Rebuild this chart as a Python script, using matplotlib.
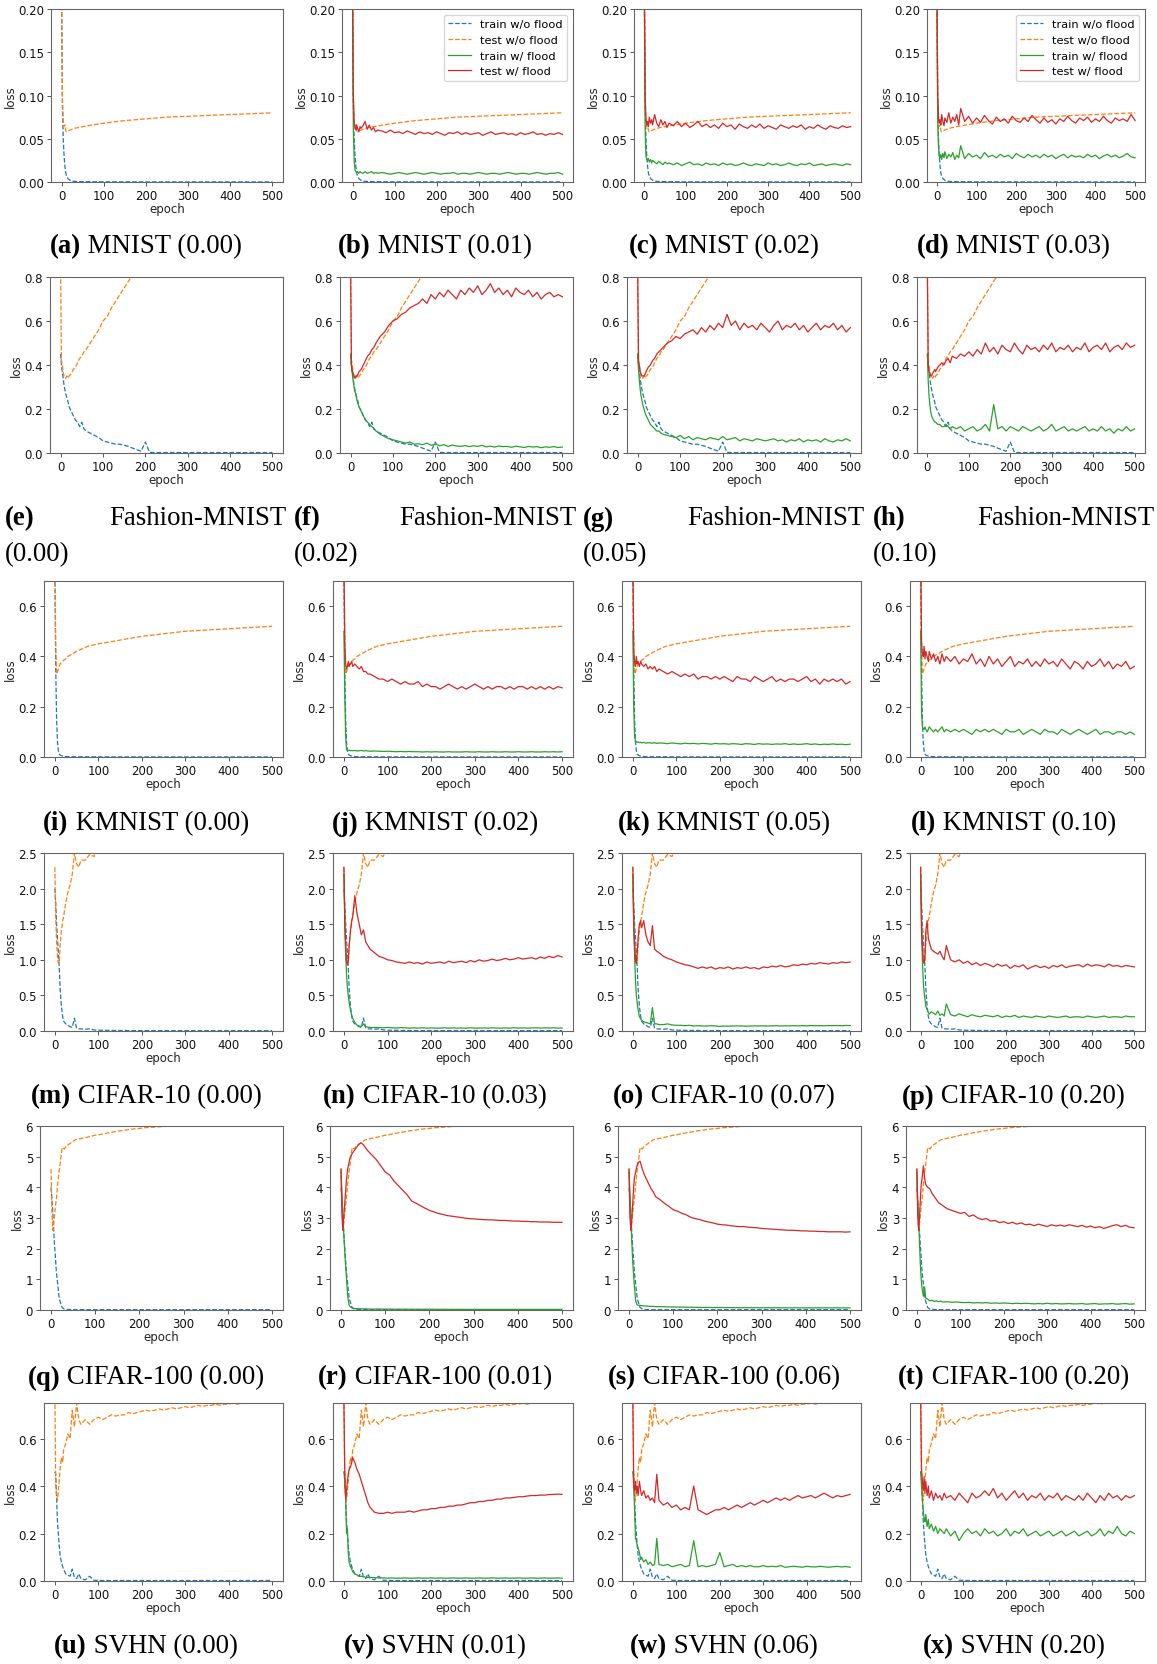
import matplotlib
matplotlib.use("Agg")
import matplotlib.pyplot as plt

W, H = 1157, 1665

EP = [0, 2, 4, 6, 8, 10, 12, 15, 18, 20, 25, 30, 35, 40, 45, 50, 55, 60,
      70, 80, 90, 100, 110, 120, 130, 140, 150, 160,
      170, 180, 190, 200, 210, 220, 230, 240, 250, 260,
      270, 280, 290, 300, 310, 320, 330, 340, 350, 360,
      370, 380, 390, 400, 410, 420, 430, 440, 450, 460,
      470, 480, 490, 500]
# coarser grid for the smooth baseline curves
EP_S = [0, 2, 4, 6, 8, 10, 12, 15, 20, 25, 30, 40, 50, 75, 100, 150, 200, 250, 300, 350, 400, 450, 500]

# ---------------- MNIST ----------------
mnist_train_wo = [0.22, 0.09, 0.05, 0.03, 0.018, 0.01, 0.007, 0.004, 0.002, 0.001, 0.0008, 0.0005, 0.0004,
                  0.0003, 0.0002, 0.0002, 0.0001, 0.0001, 0.0001, 0.0001, 0.0001, 0.0001, 0.0001]
mnist_test_wo = [0.24, 0.10, 0.066, 0.064, 0.066, 0.059, 0.058, 0.059, 0.060, 0.061, 0.062, 0.063, 0.064,
                 0.066, 0.068, 0.071, 0.073, 0.075, 0.076, 0.077, 0.078, 0.079, 0.080]

mnist_b_train = ([0.22, 0.06, 0.025, 0.014, 0.012, 0.011, 0.012, 0.010, 0.012, 0.011, 0.010, 0.012, 0.010, 0.011, 0.012, 0.010, 0.011, 0.010]
                 + [0.011, 0.010, 0.009, 0.010, 0.011, 0.010, 0.009, 0.010, 0.011, 0.010]
                 + [0.009, 0.010, 0.011, 0.010, 0.009, 0.010, 0.010, 0.011, 0.009, 0.010]
                 + [0.010, 0.009, 0.010, 0.011, 0.010, 0.009, 0.010, 0.010, 0.009, 0.010]
                 + [0.011, 0.010, 0.009, 0.010, 0.010, 0.009, 0.010, 0.011, 0.010, 0.009]
                 + [0.010, 0.010, 0.011, 0.009])
mnist_b_test = ([0.24, 0.10, 0.068, 0.064, 0.060, 0.066, 0.062, 0.058, 0.064, 0.062, 0.065, 0.070, 0.061, 0.066, 0.060, 0.063, 0.058, 0.060]
                + [0.059, 0.057, 0.060, 0.057, 0.058, 0.056, 0.059, 0.057, 0.055, 0.058]
                + [0.056, 0.057, 0.055, 0.058, 0.056, 0.054, 0.057, 0.056, 0.058, 0.055]
                + [0.057, 0.055, 0.056, 0.057, 0.054, 0.056, 0.058, 0.055, 0.056, 0.057]
                + [0.055, 0.056, 0.054, 0.057, 0.055, 0.056, 0.058, 0.055, 0.056, 0.054]
                + [0.056, 0.055, 0.057, 0.055])

mnist_c_train = ([0.22, 0.06, 0.03, 0.026, 0.025, 0.027, 0.023, 0.026, 0.022, 0.025, 0.023, 0.021, 0.024, 0.022, 0.020, 0.023, 0.021, 0.022]
                 + [0.020, 0.022, 0.019, 0.021, 0.023, 0.020, 0.021, 0.019, 0.022, 0.020]
                 + [0.021, 0.019, 0.022, 0.020, 0.021, 0.019, 0.020, 0.022, 0.020, 0.019]
                 + [0.021, 0.020, 0.019, 0.022, 0.020, 0.021, 0.019, 0.020, 0.022, 0.020]
                 + [0.019, 0.021, 0.020, 0.022, 0.019, 0.020, 0.021, 0.019, 0.020, 0.021]
                 + [0.020, 0.019, 0.021, 0.020])
mnist_c_test = ([0.24, 0.10, 0.072, 0.066, 0.070, 0.064, 0.075, 0.068, 0.072, 0.066, 0.078, 0.068, 0.064, 0.072, 0.066, 0.070, 0.063, 0.068]
                + [0.065, 0.070, 0.064, 0.068, 0.063, 0.066, 0.070, 0.064, 0.067, 0.063]
                + [0.066, 0.062, 0.068, 0.064, 0.066, 0.061, 0.067, 0.064, 0.062, 0.066]
                + [0.063, 0.067, 0.062, 0.065, 0.063, 0.061, 0.066, 0.064, 0.062, 0.065]
                + [0.063, 0.066, 0.061, 0.064, 0.062, 0.066, 0.063, 0.061, 0.065, 0.063]
                + [0.062, 0.065, 0.063, 0.064])

mnist_d_train = ([0.22, 0.07, 0.04, 0.030, 0.028, 0.032, 0.026, 0.033, 0.028, 0.035, 0.027, 0.032, 0.029, 0.034, 0.026, 0.031, 0.028, 0.042]
                 + [0.027, 0.033, 0.029, 0.031, 0.027, 0.034, 0.029, 0.031, 0.028, 0.032]
                 + [0.029, 0.031, 0.027, 0.033, 0.030, 0.028, 0.032, 0.029, 0.031, 0.028]
                 + [0.032, 0.029, 0.031, 0.027, 0.030, 0.032, 0.028, 0.031, 0.029, 0.030]
                 + [0.028, 0.032, 0.029, 0.031, 0.027, 0.030, 0.032, 0.029, 0.031, 0.028]
                 + [0.030, 0.033, 0.029, 0.028])
mnist_d_test = ([0.24, 0.10, 0.075, 0.068, 0.072, 0.066, 0.078, 0.070, 0.065, 0.074, 0.069, 0.080, 0.068, 0.075, 0.070, 0.078, 0.066, 0.085]
                + [0.070, 0.076, 0.068, 0.074, 0.069, 0.077, 0.071, 0.067, 0.075, 0.070]
                + [0.073, 0.068, 0.076, 0.071, 0.069, 0.074, 0.070, 0.077, 0.072, 0.068]
                + [0.074, 0.069, 0.072, 0.067, 0.073, 0.070, 0.076, 0.071, 0.068, 0.074]
                + [0.071, 0.075, 0.069, 0.073, 0.070, 0.076, 0.071, 0.068, 0.074, 0.071]
                + [0.073, 0.070, 0.078, 0.071])

# ---------------- Fashion-MNIST ----------------
fm_train_wo = ([0.45, 0.40, 0.37, 0.34, 0.31, 0.29, 0.27, 0.25, 0.23, 0.21, 0.19, 0.17, 0.15, 0.14, 0.12, 0.14, 0.11, 0.10]
               + [0.09, 0.08, 0.07, 0.055, 0.05, 0.045, 0.04, 0.04, 0.035, 0.03]
               + [0.022, 0.015, 0.008, 0.05, 0.003, 0.002, 0.002, 0.002, 0.002, 0.002]
               + [0.002, 0.002, 0.002, 0.002, 0.002, 0.002, 0.002, 0.002, 0.002, 0.002]
               + [0.002, 0.002, 0.002, 0.002, 0.002, 0.002, 0.002, 0.002, 0.002, 0.002]
               + [0.002, 0.002, 0.002, 0.002])
fm_test_wo = ([0.85, 0.42, 0.40, 0.37, 0.35, 0.34, 0.34, 0.35, 0.34, 0.35, 0.36, 0.38, 0.39, 0.41, 0.43, 0.44, 0.46, 0.47]
              + [0.50, 0.53, 0.56, 0.60, 0.62, 0.66, 0.69, 0.72, 0.75, 0.78]
              + [0.81, 0.84, 0.87, 0.90, 0.93, 0.96, 0.99, 1.02, 1.05, 1.08]
              + [1.10, 1.12, 1.14, 1.16, 1.18, 1.20, 1.22, 1.24, 1.26, 1.28]
              + [1.30, 1.32, 1.34, 1.36, 1.38, 1.40, 1.42, 1.44, 1.46, 1.48]
              + [1.50, 1.52, 1.54, 1.56])

fm_f_train = ([0.45, 0.40, 0.36, 0.33, 0.30, 0.28, 0.27, 0.24, 0.22, 0.21, 0.19, 0.17, 0.15, 0.14, 0.13, 0.12, 0.11, 0.10]
              + [0.085, 0.075, 0.065, 0.06, 0.055, 0.05, 0.045, 0.05, 0.04, 0.042]
              + [0.038, 0.045, 0.035, 0.04, 0.033, 0.038, 0.03, 0.036, 0.032, 0.03]
              + [0.034, 0.029, 0.033, 0.03, 0.035, 0.028, 0.031, 0.027, 0.032, 0.029]
              + [0.03, 0.026, 0.031, 0.028, 0.025, 0.03, 0.027, 0.029, 0.024, 0.028]
              + [0.026, 0.029, 0.025, 0.027])
fm_f_test = ([0.85, 0.40, 0.37, 0.36, 0.35, 0.34, 0.35, 0.35, 0.36, 0.37, 0.38, 0.40, 0.42, 0.44, 0.45, 0.47, 0.48, 0.50]
             + [0.53, 0.55, 0.58, 0.60, 0.61, 0.63, 0.64, 0.66, 0.67, 0.68]
             + [0.70, 0.68, 0.72, 0.70, 0.73, 0.71, 0.74, 0.72, 0.70, 0.74]
             + [0.72, 0.75, 0.73, 0.76, 0.72, 0.74, 0.77, 0.73, 0.75, 0.72]
             + [0.74, 0.71, 0.75, 0.73, 0.72, 0.74, 0.71, 0.73, 0.70, 0.72]
             + [0.73, 0.71, 0.72, 0.71])

fm_g_train = ([0.45, 0.38, 0.33, 0.29, 0.26, 0.24, 0.22, 0.20, 0.18, 0.17, 0.15, 0.13, 0.12, 0.11, 0.10, 0.10, 0.09, 0.085]
              + [0.08, 0.075, 0.07, 0.08, 0.065, 0.075, 0.06, 0.07, 0.065, 0.06]
              + [0.07, 0.065, 0.06, 0.075, 0.06, 0.065, 0.07, 0.055, 0.065, 0.06]
              + [0.055, 0.065, 0.06, 0.055, 0.06, 0.065, 0.055, 0.06, 0.05, 0.06]
              + [0.055, 0.065, 0.05, 0.06, 0.055, 0.06, 0.05, 0.065, 0.055, 0.05]
              + [0.06, 0.055, 0.065, 0.055])
fm_g_test = ([0.85, 0.42, 0.40, 0.37, 0.36, 0.35, 0.35, 0.35, 0.36, 0.37, 0.39, 0.40, 0.42, 0.43, 0.45, 0.46, 0.47, 0.48]
             + [0.50, 0.51, 0.53, 0.52, 0.54, 0.55, 0.56, 0.54, 0.57, 0.55]
             + [0.58, 0.56, 0.59, 0.57, 0.63, 0.58, 0.60, 0.56, 0.59, 0.57]
             + [0.58, 0.56, 0.59, 0.57, 0.55, 0.58, 0.60, 0.56, 0.58, 0.57]
             + [0.59, 0.56, 0.58, 0.55, 0.57, 0.59, 0.56, 0.58, 0.57, 0.59]
             + [0.56, 0.58, 0.55, 0.57])

fm_h_train = ([0.45, 0.33, 0.26, 0.22, 0.19, 0.17, 0.16, 0.15, 0.14, 0.14, 0.13, 0.13, 0.12, 0.12, 0.13, 0.12, 0.11, 0.12]
              + [0.11, 0.12, 0.10, 0.11, 0.12, 0.10, 0.11, 0.13, 0.10, 0.22]
              + [0.11, 0.12, 0.10, 0.12, 0.11, 0.10, 0.12, 0.11, 0.10, 0.11]
              + [0.12, 0.10, 0.11, 0.13, 0.10, 0.11, 0.12, 0.10, 0.11, 0.10]
              + [0.11, 0.12, 0.10, 0.11, 0.10, 0.12, 0.10, 0.11, 0.09, 0.11]
              + [0.10, 0.12, 0.10, 0.11])
fm_h_test = ([0.85, 0.40, 0.37, 0.36, 0.35, 0.35, 0.36, 0.37, 0.38, 0.37, 0.39, 0.40, 0.41, 0.40, 0.42, 0.43, 0.41, 0.44]
             + [0.43, 0.45, 0.44, 0.46, 0.44, 0.47, 0.45, 0.50, 0.46, 0.48]
             + [0.45, 0.49, 0.47, 0.46, 0.50, 0.47, 0.45, 0.49, 0.47, 0.48]
             + [0.46, 0.49, 0.47, 0.50, 0.46, 0.48, 0.47, 0.49, 0.46, 0.48]
             + [0.47, 0.50, 0.46, 0.48, 0.49, 0.47, 0.50, 0.46, 0.48, 0.49]
             + [0.47, 0.50, 0.48, 0.49])

# ---------------- KMNIST ----------------
km_train_wo = [0.75, 0.35, 0.15, 0.06, 0.025, 0.012, 0.008, 0.005, 0.003, 0.002, 0.0015, 0.001, 0.001,
               0.0008, 0.0006, 0.0005, 0.0004, 0.0004, 0.0003, 0.0003, 0.0003, 0.0003, 0.0003]
km_test_wo = [0.80, 0.45, 0.33, 0.34, 0.35, 0.36, 0.37, 0.375, 0.385, 0.39, 0.40, 0.41, 0.42,
              0.44, 0.45, 0.465, 0.48, 0.49, 0.50, 0.505, 0.51, 0.515, 0.52]

km_j_train = ([0.50, 0.25, 0.08, 0.03, 0.027, 0.026, 0.027, 0.025, 0.026, 0.025, 0.026, 0.024, 0.025, 0.026, 0.024, 0.025, 0.024, 0.023]
              + [0.024, 0.023, 0.022, 0.023, 0.022, 0.021, 0.022, 0.021, 0.022, 0.021]
              + [0.021, 0.020, 0.021, 0.020, 0.021, 0.020, 0.020, 0.021, 0.020, 0.020]
              + [0.020, 0.021, 0.020, 0.020, 0.021, 0.020, 0.020, 0.021, 0.020, 0.020]
              + [0.021, 0.020, 0.020, 0.021, 0.020, 0.020, 0.021, 0.020, 0.020, 0.021]
              + [0.020, 0.021, 0.020, 0.021])
km_j_test = ([0.80, 0.45, 0.37, 0.35, 0.36, 0.38, 0.36, 0.37, 0.38, 0.36, 0.37, 0.36, 0.35, 0.36, 0.34, 0.34, 0.33, 0.33]
             + [0.32, 0.31, 0.31, 0.30, 0.31, 0.30, 0.29, 0.30, 0.29, 0.29]
             + [0.30, 0.28, 0.29, 0.28, 0.28, 0.27, 0.28, 0.29, 0.28, 0.27]
             + [0.28, 0.27, 0.28, 0.29, 0.28, 0.27, 0.28, 0.27, 0.28, 0.28]
             + [0.27, 0.28, 0.27, 0.28, 0.28, 0.27, 0.28, 0.27, 0.28, 0.27]
             + [0.28, 0.27, 0.28, 0.275])

km_k_train = ([0.50, 0.20, 0.08, 0.065, 0.06, 0.058, 0.06, 0.057, 0.059, 0.056, 0.058, 0.055, 0.057, 0.056, 0.055, 0.057, 0.054, 0.056]
              + [0.055, 0.053, 0.056, 0.054, 0.052, 0.055, 0.053, 0.054, 0.052, 0.054]
              + [0.053, 0.051, 0.054, 0.052, 0.053, 0.051, 0.053, 0.052, 0.050, 0.053]
              + [0.052, 0.050, 0.053, 0.051, 0.052, 0.050, 0.052, 0.051, 0.053, 0.050]
              + [0.052, 0.050, 0.051, 0.053, 0.050, 0.052, 0.049, 0.051, 0.050, 0.052]
              + [0.050, 0.051, 0.049, 0.051])
km_k_test = ([0.80, 0.42, 0.38, 0.36, 0.40, 0.37, 0.38, 0.36, 0.38, 0.37, 0.36, 0.37, 0.35, 0.36, 0.35, 0.36, 0.34, 0.35]
             + [0.34, 0.33, 0.34, 0.33, 0.32, 0.33, 0.32, 0.33, 0.31, 0.32]
             + [0.32, 0.31, 0.32, 0.31, 0.32, 0.31, 0.30, 0.32, 0.31, 0.31]
             + [0.30, 0.32, 0.31, 0.30, 0.31, 0.32, 0.30, 0.31, 0.30, 0.31]
             + [0.31, 0.30, 0.31, 0.32, 0.30, 0.31, 0.29, 0.31, 0.30, 0.31]
             + [0.30, 0.31, 0.29, 0.30])

km_l_train = ([0.50, 0.18, 0.12, 0.11, 0.11, 0.12, 0.11, 0.10, 0.11, 0.12, 0.11, 0.10, 0.11, 0.10, 0.11, 0.12, 0.10, 0.11]
              + [0.10, 0.11, 0.10, 0.11, 0.10, 0.09, 0.11, 0.10, 0.11, 0.10]
              + [0.11, 0.10, 0.09, 0.11, 0.10, 0.10, 0.11, 0.09, 0.10, 0.11]
              + [0.10, 0.09, 0.11, 0.10, 0.10, 0.09, 0.11, 0.10, 0.09, 0.10]
              + [0.11, 0.10, 0.09, 0.10, 0.11, 0.09, 0.10, 0.10, 0.09, 0.10]
              + [0.10, 0.09, 0.10, 0.09])
km_l_test = ([0.80, 0.46, 0.41, 0.40, 0.44, 0.39, 0.42, 0.40, 0.38, 0.42, 0.39, 0.41, 0.38, 0.40, 0.37, 0.41, 0.38, 0.40]
             + [0.38, 0.40, 0.37, 0.39, 0.38, 0.41, 0.37, 0.39, 0.36, 0.40]
             + [0.37, 0.39, 0.36, 0.38, 0.40, 0.36, 0.38, 0.37, 0.39, 0.36]
             + [0.38, 0.36, 0.39, 0.37, 0.38, 0.36, 0.39, 0.37, 0.35, 0.38]
             + [0.37, 0.35, 0.38, 0.36, 0.37, 0.39, 0.36, 0.38, 0.35, 0.37]
             + [0.36, 0.38, 0.35, 0.36])

# ---------------- CIFAR-10 ----------------
c10_train_wo = ([2.0, 1.8, 1.5, 1.3, 1.1, 0.9, 0.6, 0.35, 0.2, 0.14, 0.10, 0.08, 0.06, 0.05, 0.18, 0.04, 0.03, 0.03]
                + [0.025, 0.03, 0.015, 0.012, 0.01, 0.01, 0.008, 0.008, 0.007, 0.007]
                + [0.006, 0.006, 0.006, 0.006, 0.006, 0.006, 0.006, 0.006, 0.006, 0.006]
                + [0.005, 0.005, 0.005, 0.005, 0.005, 0.005, 0.005, 0.005, 0.005, 0.005]
                + [0.005, 0.005, 0.005, 0.005, 0.005, 0.005, 0.005, 0.005, 0.005, 0.005]
                + [0.005, 0.005, 0.005, 0.005])
c10_test_wo = ([2.3, 1.6, 1.25, 1.05, 0.95, 0.95, 1.2, 1.4, 1.55, 1.6, 1.8, 1.95, 2.05, 2.2, 2.5, 2.35, 2.3, 2.4]
               + [2.4, 2.48, 2.45, 2.6, 2.7, 2.8, 2.9, 3.0, 3.1, 3.2]
               + [3.3, 3.4, 3.5, 3.6, 3.7, 3.8, 3.9, 4.0, 4.1, 4.2]
               + [4.3, 4.4, 4.5, 4.6, 4.7, 4.8, 4.9, 5.0, 5.1, 5.2]
               + [5.3, 5.4, 5.5, 5.6, 5.7, 5.8, 5.9, 6.0, 6.1, 6.2]
               + [6.3, 6.4, 6.5, 6.6])

c10_n_train = ([2.2, 1.6, 1.1, 0.8, 0.6, 0.5, 0.4, 0.3, 0.22, 0.18, 0.12, 0.085, 0.07, 0.065, 0.10, 0.06, 0.055, 0.05]
               + [0.05, 0.048, 0.045, 0.05, 0.045, 0.042, 0.048, 0.045, 0.04, 0.045]
               + [0.04, 0.045, 0.04, 0.043, 0.04, 0.04, 0.045, 0.04, 0.044, 0.04]
               + [0.042, 0.04, 0.045, 0.041, 0.04, 0.043, 0.04, 0.045, 0.041, 0.04]
               + [0.043, 0.04, 0.046, 0.041, 0.044, 0.04, 0.043, 0.046, 0.041, 0.044]
               + [0.042, 0.045, 0.041, 0.043])
c10_n_test = ([2.3, 1.5, 1.15, 0.98, 0.93, 0.98, 1.2, 1.4, 1.55, 1.6, 1.9, 1.65, 1.5, 1.35, 1.42, 1.25, 1.2, 1.15]
              + [1.1, 1.05, 1.03, 1.0, 0.99, 0.97, 0.96, 0.95, 0.97, 0.95]
              + [0.96, 0.94, 0.97, 0.95, 0.96, 0.97, 0.95, 0.98, 0.96, 0.97]
              + [0.98, 0.96, 0.99, 0.97, 1.0, 0.98, 0.99, 1.01, 0.99, 1.0]
              + [1.02, 1.0, 1.01, 1.03, 1.01, 1.02, 1.03, 1.01, 1.04, 1.02]
              + [1.05, 1.03, 1.06, 1.04])

c10_o_train = ([2.2, 1.5, 1.05, 0.7, 0.5, 0.4, 0.3, 0.2, 0.17, 0.15, 0.13, 0.12, 0.11, 0.10, 0.33, 0.10, 0.10, 0.09]
               + [0.09, 0.10, 0.085, 0.08, 0.08, 0.075, 0.08, 0.07, 0.075, 0.07]
               + [0.07, 0.075, 0.07, 0.065, 0.07, 0.068, 0.07, 0.072, 0.07, 0.068]
               + [0.07, 0.072, 0.07, 0.073, 0.07, 0.072, 0.075, 0.07, 0.073, 0.072]
               + [0.074, 0.072, 0.075, 0.073, 0.076, 0.074, 0.075, 0.073, 0.076, 0.075]
               + [0.076, 0.074, 0.078, 0.076])
c10_o_test = ([2.3, 1.45, 1.2, 1.0, 0.95, 1.1, 1.3, 1.5, 1.55, 1.45, 1.55, 1.35, 1.25, 1.2, 1.48, 1.15, 1.12, 1.1]
              + [1.05, 1.02, 1.0, 0.97, 0.95, 0.93, 0.92, 0.9, 0.88, 0.9]
              + [0.88, 0.9, 0.87, 0.89, 0.88, 0.9, 0.87, 0.89, 0.88, 0.9]
              + [0.88, 0.89, 0.87, 0.9, 0.89, 0.91, 0.9, 0.92, 0.9, 0.91]
              + [0.93, 0.92, 0.94, 0.93, 0.95, 0.94, 0.96, 0.95, 0.94, 0.96]
              + [0.95, 0.97, 0.96, 0.97])

c10_p_train = ([2.2, 1.5, 1.0, 0.7, 0.55, 0.45, 0.35, 0.3, 0.26, 0.24, 0.27, 0.25, 0.23, 0.28, 0.22, 0.24, 0.21, 0.38]
               + [0.23, 0.21, 0.24, 0.22, 0.2, 0.23, 0.21, 0.2, 0.22, 0.21]
               + [0.2, 0.22, 0.19, 0.21, 0.2, 0.22, 0.19, 0.21, 0.2, 0.19]
               + [0.21, 0.2, 0.19, 0.21, 0.2, 0.19, 0.2, 0.21, 0.19, 0.2]
               + [0.2, 0.19, 0.21, 0.2, 0.19, 0.2, 0.21, 0.19, 0.2, 0.2]
               + [0.19, 0.21, 0.2, 0.2])
c10_p_test = ([2.3, 1.4, 1.15, 1.0, 0.95, 1.05, 1.4, 1.55, 1.3, 1.25, 1.15, 1.12, 1.1, 1.08, 1.12, 1.05, 1.0, 1.2]
              + [1.0, 0.97, 1.0, 0.95, 0.98, 0.93, 0.96, 0.92, 0.95, 0.93]
              + [0.9, 0.94, 0.91, 0.93, 0.88, 0.92, 0.9, 0.93, 0.87, 0.9]
              + [0.92, 0.89, 0.91, 0.88, 0.92, 0.9, 0.93, 0.89, 0.91, 0.92]
              + [0.93, 0.9, 0.94, 0.91, 0.93, 0.92, 0.9, 0.94, 0.91, 0.92]
              + [0.9, 0.92, 0.91, 0.9])

# ---------------- CIFAR-100 ----------------
c100_train_wo = ([4.0, 3.6, 3.2, 2.6, 2.1, 1.7, 1.25, 0.85, 0.45, 0.3, 0.08, 0.03, 0.02, 0.015, 0.015, 0.01, 0.01, 0.01]
                 + [0.01, 0.01, 0.01, 0.01, 0.01, 0.01, 0.01, 0.01, 0.01, 0.01]
                 + [0.01, 0.01, 0.01, 0.01, 0.01, 0.01, 0.01, 0.01, 0.01, 0.01]
                 + [0.01, 0.01, 0.01, 0.01, 0.01, 0.01, 0.01, 0.01, 0.01, 0.01]
                 + [0.01, 0.01, 0.01, 0.01, 0.01, 0.01, 0.01, 0.01, 0.01, 0.01]
                 + [0.01, 0.01, 0.01, 0.01])
c100_test_wo = ([4.6, 3.2, 2.6, 2.8, 3.1, 3.4, 3.6, 4.1, 4.5, 4.7, 5.3, 5.25, 5.35, 5.4, 5.45, 5.5, 5.55, 5.57]
                + [5.6, 5.63, 5.66, 5.7, 5.72, 5.75, 5.78, 5.8, 5.83, 5.85]
                + [5.87, 5.89, 5.91, 5.92, 5.94, 5.95, 5.96, 5.97, 5.98, 5.99]
                + [6.0, 6.02, 6.04, 6.06, 6.08, 6.1, 6.12, 6.14, 6.16, 6.18]
                + [6.2, 6.22, 6.24, 6.26, 6.28, 6.3, 6.32, 6.34, 6.36, 6.38]
                + [6.4, 6.42, 6.44, 6.46])

c100_r_train = ([4.5, 3.8, 3.0, 2.5, 2.0, 1.5, 1.1, 0.46, 0.17, 0.12, 0.06, 0.05, 0.045, 0.04, 0.04, 0.035, 0.04, 0.035]
                + [0.03, 0.032, 0.03, 0.028, 0.03, 0.027, 0.028, 0.026, 0.027, 0.025]
                + [0.025, 0.024, 0.025, 0.023, 0.024, 0.022, 0.023, 0.022, 0.022, 0.021]
                + [0.021, 0.02, 0.021, 0.02, 0.02, 0.021, 0.02, 0.02, 0.021, 0.02]
                + [0.02, 0.021, 0.02, 0.02, 0.021, 0.02, 0.02, 0.021, 0.02, 0.02]
                + [0.021, 0.02, 0.02, 0.021])
c100_r_test = ([4.6, 3.2, 2.6, 3.0, 3.4, 3.8, 4.2, 4.6, 4.8, 4.95, 5.1, 5.2, 5.3, 5.4, 5.45, 5.4, 5.3, 5.2]
               + [5.05, 4.9, 4.7, 4.5, 4.4, 4.2, 4.05, 3.9, 3.75, 3.55]
               + [3.48, 3.4, 3.32, 3.25, 3.2, 3.15, 3.12, 3.08, 3.06, 3.04]
               + [3.02, 3.0, 2.98, 2.97, 2.96, 2.95, 2.94, 2.94, 2.93, 2.92]
               + [2.92, 2.91, 2.9, 2.9, 2.89, 2.89, 2.88, 2.88, 2.87, 2.87]
               + [2.87, 2.86, 2.86, 2.86])

c100_s_train = ([4.5, 3.8, 3.1, 2.3, 1.67, 1.2, 0.79, 0.3, 0.17, 0.16, 0.15, 0.14, 0.13, 0.13, 0.12, 0.12, 0.115, 0.11]
                + [0.11, 0.105, 0.1, 0.1, 0.095, 0.095, 0.09, 0.09, 0.09, 0.085]
                + [0.085, 0.085, 0.08, 0.08, 0.08, 0.078, 0.078, 0.076, 0.076, 0.075]
                + [0.075, 0.074, 0.074, 0.073, 0.073, 0.072, 0.072, 0.072, 0.071, 0.071]
                + [0.071, 0.07, 0.07, 0.07, 0.07, 0.07, 0.07, 0.07, 0.07, 0.07]
                + [0.07, 0.07, 0.07, 0.07])
c100_s_test = ([4.6, 3.1, 2.6, 2.9, 3.4, 3.9, 4.3, 4.5, 4.7, 4.8, 4.85, 4.6, 4.4, 4.25, 4.1, 3.95, 3.85, 3.7]
               + [3.6, 3.48, 3.38, 3.27, 3.22, 3.15, 3.1, 3.02, 2.98, 2.95]
               + [2.9, 2.87, 2.84, 2.8, 2.78, 2.77, 2.75, 2.73, 2.72, 2.72]
               + [2.7, 2.69, 2.68, 2.66, 2.65, 2.64, 2.63, 2.62, 2.61, 2.6]
               + [2.6, 2.59, 2.58, 2.58, 2.57, 2.57, 2.56, 2.56, 2.55, 2.55]
               + [2.55, 2.55, 2.54, 2.55])

c100_t_train = ([4.5, 3.5, 3.0, 2.2, 1.5, 1.0, 0.7, 0.45, 0.75, 0.4, 0.35, 0.3, 0.32, 0.28, 0.3, 0.27, 0.29, 0.26]
                + [0.27, 0.25, 0.26, 0.25, 0.24, 0.25, 0.23, 0.24, 0.23, 0.24]
                + [0.22, 0.23, 0.22, 0.23, 0.22, 0.21, 0.22, 0.21, 0.22, 0.21]
                + [0.2, 0.21, 0.2, 0.22, 0.2, 0.21, 0.2, 0.2, 0.21, 0.2]
                + [0.2, 0.21, 0.19, 0.2, 0.21, 0.19, 0.2, 0.2, 0.21, 0.19]
                + [0.2, 0.21, 0.19, 0.2])
c100_t_test = ([4.6, 3.1, 2.6, 3.0, 3.6, 4.1, 4.3, 4.7, 4.3, 4.1, 4.0, 3.95, 3.8, 3.7, 3.6, 3.5, 3.45, 3.4]
               + [3.3, 3.25, 3.2, 3.15, 3.18, 3.05, 3.1, 3.0, 2.95, 2.98]
               + [2.9, 2.92, 2.85, 2.88, 2.82, 2.86, 2.8, 2.84, 2.78, 2.8]
               + [2.75, 2.8, 2.76, 2.72, 2.78, 2.74, 2.77, 2.73, 2.78, 2.75]
               + [2.72, 2.76, 2.7, 2.74, 2.68, 2.72, 2.66, 2.7, 2.75, 2.78]
               + [2.72, 2.76, 2.7, 2.68])

# ---------------- SVHN ----------------
sv_train_wo = ([0.46, 0.45, 0.35, 0.25, 0.2, 0.15, 0.11, 0.08, 0.06, 0.05, 0.03, 0.025, 0.02, 0.05, 0.015, 0.01, 0.03, 0.01]
               + [0.005, 0.02, 0.003, 0.003, 0.002, 0.002, 0.002, 0.002, 0.002, 0.002]
               + [0.002, 0.002, 0.002, 0.002, 0.002, 0.002, 0.002, 0.002, 0.002, 0.002]
               + [0.002, 0.002, 0.002, 0.002, 0.002, 0.002, 0.002, 0.002, 0.002, 0.002]
               + [0.002, 0.002, 0.002, 0.002, 0.002, 0.002, 0.002, 0.002, 0.002, 0.002]
               + [0.002, 0.002, 0.002, 0.002])
sv_test_wo = ([0.80, 0.40, 0.36, 0.34, 0.38, 0.42, 0.47, 0.52, 0.50, 0.55, 0.58, 0.62, 0.60, 0.72, 0.65, 0.75, 0.68, 0.66]
              + [0.68, 0.66, 0.68, 0.69, 0.68, 0.69, 0.70, 0.695, 0.70, 0.70]
              + [0.71, 0.705, 0.71, 0.715, 0.72, 0.715, 0.72, 0.725, 0.72, 0.725]
              + [0.73, 0.725, 0.73, 0.735, 0.73, 0.735, 0.74, 0.735, 0.74, 0.74]
              + [0.745, 0.74, 0.745, 0.745, 0.75, 0.745, 0.75, 0.748, 0.75, 0.75]
              + [0.75, 0.752, 0.75, 0.752])

sv_v_train = ([0.46, 0.42, 0.35, 0.20, 0.22, 0.12, 0.08, 0.06, 0.05, 0.04, 0.03, 0.025, 0.02, 0.02, 0.018, 0.016, 0.015, 0.015]
              + [0.014, 0.013, 0.013, 0.012, 0.013, 0.012, 0.012, 0.013, 0.012, 0.012]
              + [0.013, 0.012, 0.012, 0.013, 0.012, 0.013, 0.012, 0.012, 0.013, 0.012]
              + [0.012, 0.013, 0.012, 0.012, 0.013, 0.012, 0.012, 0.013, 0.012, 0.012]
              + [0.013, 0.012, 0.012, 0.013, 0.012, 0.012, 0.013, 0.012, 0.012, 0.013]
              + [0.012, 0.012, 0.013, 0.012])
sv_v_test = ([0.75, 0.45, 0.35, 0.38, 0.42, 0.45, 0.47, 0.48, 0.50, 0.52, 0.50, 0.47, 0.45, 0.42, 0.39, 0.36, 0.33, 0.31]
             + [0.29, 0.285, 0.285, 0.29, 0.285, 0.29, 0.29, 0.29, 0.295, 0.29]
             + [0.295, 0.30, 0.30, 0.305, 0.305, 0.31, 0.31, 0.315, 0.315, 0.32]
             + [0.32, 0.325, 0.33, 0.33, 0.335, 0.335, 0.34, 0.34, 0.345, 0.345]
             + [0.35, 0.35, 0.352, 0.355, 0.355, 0.358, 0.36, 0.36, 0.362, 0.362]
             + [0.364, 0.365, 0.366, 0.365])

sv_w_train = ([0.46, 0.40, 0.30, 0.18, 0.17, 0.15, 0.14, 0.12, 0.09, 0.10, 0.08, 0.09, 0.07, 0.08, 0.065, 0.07, 0.18, 0.07]
              + [0.065, 0.07, 0.06, 0.065, 0.07, 0.06, 0.065, 0.17, 0.06, 0.065]
              + [0.06, 0.065, 0.07, 0.12, 0.06, 0.065, 0.07, 0.06, 0.065, 0.06]
              + [0.065, 0.06, 0.06, 0.065, 0.06, 0.062, 0.06, 0.065, 0.058, 0.06]
              + [0.062, 0.06, 0.058, 0.062, 0.06, 0.059, 0.062, 0.06, 0.058, 0.06]
              + [0.062, 0.059, 0.061, 0.058])
sv_w_test = ([0.75, 0.40, 0.38, 0.42, 0.37, 0.40, 0.36, 0.42, 0.38, 0.36, 0.38, 0.35, 0.36, 0.34, 0.35, 0.33, 0.45, 0.34]
             + [0.32, 0.33, 0.31, 0.32, 0.30, 0.31, 0.30, 0.40, 0.30, 0.29]
             + [0.28, 0.29, 0.30, 0.30, 0.31, 0.30, 0.31, 0.32, 0.31, 0.32]
             + [0.33, 0.32, 0.33, 0.34, 0.33, 0.34, 0.35, 0.34, 0.35, 0.34]
             + [0.35, 0.36, 0.35, 0.355, 0.36, 0.35, 0.36, 0.37, 0.36, 0.35]
             + [0.36, 0.355, 0.36, 0.365])

sv_x_train = ([0.46, 0.40, 0.34, 0.30, 0.26, 0.25, 0.28, 0.23, 0.26, 0.22, 0.24, 0.21, 0.23, 0.20, 0.22, 0.21, 0.20, 0.22]
              + [0.19, 0.21, 0.17, 0.20, 0.22, 0.20, 0.21, 0.19, 0.22, 0.20]
              + [0.21, 0.19, 0.20, 0.22, 0.19, 0.21, 0.20, 0.22, 0.19, 0.20]
              + [0.21, 0.19, 0.20, 0.21, 0.19, 0.20, 0.21, 0.19, 0.20, 0.21]
              + [0.19, 0.20, 0.21, 0.19, 0.20, 0.22, 0.19, 0.21, 0.20, 0.23]
              + [0.20, 0.19, 0.21, 0.20])
sv_x_test = ([0.75, 0.47, 0.42, 0.38, 0.44, 0.37, 0.42, 0.36, 0.40, 0.35, 0.38, 0.34, 0.37, 0.35, 0.36, 0.34, 0.37, 0.35]
             + [0.36, 0.34, 0.37, 0.35, 0.33, 0.37, 0.35, 0.36, 0.38, 0.36]
             + [0.39, 0.35, 0.37, 0.34, 0.36, 0.38, 0.35, 0.37, 0.34, 0.36]
             + [0.35, 0.37, 0.34, 0.36, 0.35, 0.37, 0.34, 0.36, 0.35, 0.34]
             + [0.36, 0.34, 0.37, 0.35, 0.33, 0.36, 0.34, 0.37, 0.35, 0.36]
             + [0.34, 0.36, 0.35, 0.36])

# ---------------- layout ----------------
datasets = {
    "MNIST": dict(x=EP_S, train=mnist_train_wo, test=mnist_test_wo, ylim=(0, 0.2),
                  yticks=[0, 0.05, 0.10, 0.15, 0.20]),
    "Fashion-MNIST": dict(x=EP, train=fm_train_wo, test=fm_test_wo, ylim=(0, 0.8),
                          yticks=[0, 0.2, 0.4, 0.6, 0.8]),
    "KMNIST": dict(x=EP_S, train=km_train_wo, test=km_test_wo, ylim=(0, 0.7),
                   yticks=[0, 0.2, 0.4, 0.6]),
    "CIFAR-10": dict(x=EP, train=c10_train_wo, test=c10_test_wo, ylim=(0, 2.5),
                     yticks=[0, 0.5, 1.0, 1.5, 2.0, 2.5]),
    "CIFAR-100": dict(x=EP, train=c100_train_wo, test=c100_test_wo, ylim=(0, 6),
                      yticks=[0, 1, 2, 3, 4, 5, 6]),
    "SVHN": dict(x=EP, train=sv_train_wo, test=sv_test_wo, ylim=(0, 0.75),
                 yticks=[0, 0.2, 0.4, 0.6]),
}

rows = [
    ("MNIST", ["(a)", "(b)", "(c)", "(d)"], ["0.00", "0.01", "0.02", "0.03"],
     [None, (mnist_b_train, mnist_b_test), (mnist_c_train, mnist_c_test), (mnist_d_train, mnist_d_test)]),
    ("Fashion-MNIST", ["(e)", "(f)", "(g)", "(h)"], ["0.00", "0.02", "0.05", "0.10"],
     [None, (fm_f_train, fm_f_test), (fm_g_train, fm_g_test), (fm_h_train, fm_h_test)]),
    ("KMNIST", ["(i)", "(j)", "(k)", "(l)"], ["0.00", "0.02", "0.05", "0.10"],
     [None, (km_j_train, km_j_test), (km_k_train, km_k_test), (km_l_train, km_l_test)]),
    ("CIFAR-10", ["(m)", "(n)", "(o)", "(p)"], ["0.00", "0.03", "0.07", "0.20"],
     [None, (c10_n_train, c10_n_test), (c10_o_train, c10_o_test), (c10_p_train, c10_p_test)]),
    ("CIFAR-100", ["(q)", "(r)", "(s)", "(t)"], ["0.00", "0.01", "0.06", "0.20"],
     [None, (c100_r_train, c100_r_test), (c100_s_train, c100_s_test), (c100_t_train, c100_t_test)]),
    ("SVHN", ["(u)", "(v)", "(w)", "(x)"], ["0.00", "0.01", "0.06", "0.20"],
     [None, (sv_v_train, sv_v_test), (sv_w_train, sv_w_test), (sv_x_train, sv_x_test)]),
]

# pixel boxes (full size image)
row_tb = [(10, 183), (278, 454), (582, 758), (854, 1032), (1127, 1311), (1404, 1582)]
row_lefts = [[51, 342, 634, 927], [50, 340, 627, 917], [44, 333, 622, 910],
             [44, 333, 622, 910], [40, 330, 618, 906], [44, 333, 622, 910]]
col_rights = [283, 573, 861, 1145]
cap_y = [247, 519, 824, 1097, 1378, 1647]
cell_l = [5, 294, 583, 873]
cell_r = [287, 576, 865, 1154]

FS = 8.5
C_BLUE, C_ORANGE, C_GREEN, C_RED = "#1f77b4", "#ff7f0e", "#2ca02c", "#d62728"

fig = plt.figure(figsize=(W / 100, H / 100), dpi=100)
renderer = fig.canvas.get_renderer()
cap_kw = dict(family="Liberation Serif", fontsize=19.3, va="center")


def px_axes(l, t, r, b):
    return fig.add_axes([l / W, 1 - b / H, (r - l) / W, (b - t) / H])


for ri, (name, letters, floods, flooded) in enumerate(rows):
    d = datasets[name]
    t, b = row_tb[ri]
    for ci in range(4):
        ax = px_axes(row_lefts[ri][ci], t, col_rights[ci], b)
        ax.plot(d["x"], d["train"], "--", color=C_BLUE, lw=0.9, label="train w/o flood")
        ax.plot(d["x"], d["test"], "--", color=C_ORANGE, lw=0.9, label="test w/o flood")
        if flooded[ci] is not None:
            tr, te = flooded[ci]
            ax.plot(EP, tr, "-", color=C_GREEN, lw=0.9, label="train w/ flood")
            ax.plot(EP, te, "-", color=C_RED, lw=0.9, label="test w/ flood")
        ax.set_ylim(*d["ylim"])
        ax.set_yticks(d["yticks"])
        ax.set_xticks([0, 100, 200, 300, 400, 500])
        ax.tick_params(labelsize=FS, length=3, width=0.7, color="#555555", labelcolor="#111111", pad=2)
        ax.set_xlabel("epoch", fontsize=FS, labelpad=0, color="#222222")
        ax.set_ylabel("loss", fontsize=FS, labelpad=1, color="#222222")
        for s in ax.spines.values():
            s.set_color("#666666")
            s.set_linewidth(0.8)
        if ri == 0 and ci in (1, 3):
            ax.legend(loc="upper right", fontsize=8.2, handlelength=2.0)

        # caption below the panel
        y = 1 - cap_y[ri] / H
        if name == "Fashion-MNIST":
            fig.text(cell_l[ci] / W, y, letters[ci], fontweight="bold", ha="left", **cap_kw)
            fig.text(cell_r[ci] / W, y, name, ha="right", **cap_kw)
            fig.text(cell_l[ci] / W, 1 - 555 / H, "(" + floods[ci] + ")", ha="left", **cap_kw)
        else:
            t1 = fig.text(0, y, letters[ci], fontweight="bold", ha="left", **cap_kw)
            t2 = fig.text(0, y, " " + name + " (" + floods[ci] + ")", ha="left", **cap_kw)
            w1 = t1.get_window_extent(renderer).width
            w2 = t2.get_window_extent(renderer).width
            x0 = (cell_l[ci] + cell_r[ci]) / 2 - (w1 + w2) / 2
            t1.set_x(x0 / W)
            t2.set_x((x0 + w1) / W)

fig.savefig("out.png", dpi=100, facecolor="white")
